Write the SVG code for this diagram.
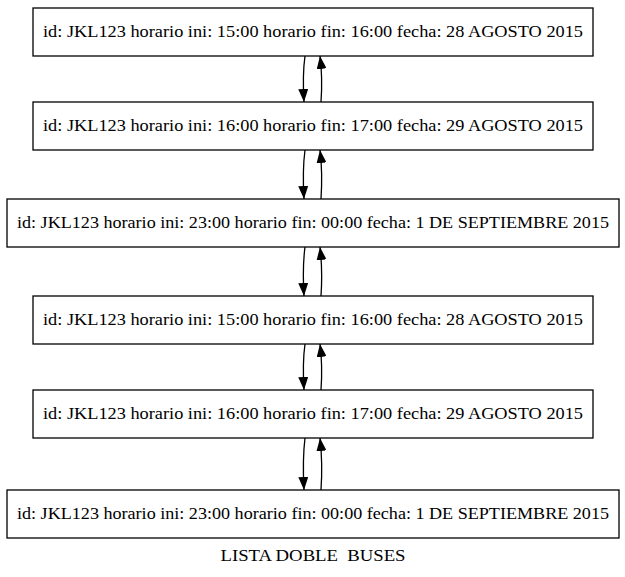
<svg xmlns="http://www.w3.org/2000/svg" width="625" height="577" viewBox="0 0 625 577">
<style>
.box{fill:#fff;stroke:#000;stroke-width:1.3}
.t{font-family:'Liberation Serif','Times New Roman','DejaVu Serif',serif;font-size:16px;fill:#000;text-anchor:middle}
.e{fill:none;stroke:#000;stroke-width:1.3}
</style>
<defs>
<marker id="ah" markerWidth="13" markerHeight="10" refX="13" refY="5" orient="auto" markerUnits="userSpaceOnUse">
<path d="M0,0 L13,5 L0,10 Z" fill="#000"/>
</marker>
</defs>
<rect width="625" height="577" fill="#fff"/>
<g id="n1"><rect class="box" x="33" y="8" width="560" height="48"/><text class="t" x="313" y="37" textLength="540" lengthAdjust="spacingAndGlyphs">id: JKL123 horario ini: 15:00 horario fin: 16:00 fecha: 28 AGOSTO 2015</text></g>
<g id="n2"><rect class="box" x="33" y="102" width="560" height="48"/><text class="t" x="313" y="131" textLength="540" lengthAdjust="spacingAndGlyphs">id: JKL123 horario ini: 16:00 horario fin: 17:00 fecha: 29 AGOSTO 2015</text></g>
<g id="n3"><rect class="box" x="7" y="199" width="612" height="48"/><text class="t" x="313" y="228" textLength="592" lengthAdjust="spacingAndGlyphs">id: JKL123 horario ini: 23:00 horario fin: 00:00 fecha: 1 DE SEPTIEMBRE 2015</text></g>
<g id="n4"><rect class="box" x="33" y="296" width="560" height="48"/><text class="t" x="313" y="325" textLength="540" lengthAdjust="spacingAndGlyphs">id: JKL123 horario ini: 15:00 horario fin: 16:00 fecha: 28 AGOSTO 2015</text></g>
<g id="n5"><rect class="box" x="33" y="390" width="560" height="48"/><text class="t" x="313" y="419" textLength="540" lengthAdjust="spacingAndGlyphs">id: JKL123 horario ini: 16:00 horario fin: 17:00 fecha: 29 AGOSTO 2015</text></g>
<g id="n6"><rect class="box" x="7" y="490" width="612" height="48"/><text class="t" x="313" y="519" textLength="592" lengthAdjust="spacingAndGlyphs">id: JKL123 horario ini: 23:00 horario fin: 00:00 fecha: 1 DE SEPTIEMBRE 2015</text></g>
<text class="t" x="313" y="561" xml:space="preserve" style="white-space:pre" textLength="185" lengthAdjust="spacingAndGlyphs">LISTA DOBLE  BUSES</text>
<g id="edges">
<path class="e" d="M305,56 C303,70 303,85 304,102" marker-end="url(#ah)"/>
<path class="e" d="M321,102 C322,88 322,72 320,56" marker-end="url(#ah)"/>
<path class="e" d="M305,150 C303,165 303,182 304,199" marker-end="url(#ah)"/>
<path class="e" d="M321,199 C322,184 322,167 320,150" marker-end="url(#ah)"/>
<path class="e" d="M305,247 C303,262 303,279 304,296" marker-end="url(#ah)"/>
<path class="e" d="M321,296 C322,281 322,264 320,247" marker-end="url(#ah)"/>
<path class="e" d="M305,344 C303,358 303,373 304,390" marker-end="url(#ah)"/>
<path class="e" d="M321,390 C322,376 322,360 320,344" marker-end="url(#ah)"/>
<path class="e" d="M305,438 C303,454 303,471 304,490" marker-end="url(#ah)"/>
<path class="e" d="M321,490 C322,475 322,456 320,438" marker-end="url(#ah)"/>
</g>
</svg>
